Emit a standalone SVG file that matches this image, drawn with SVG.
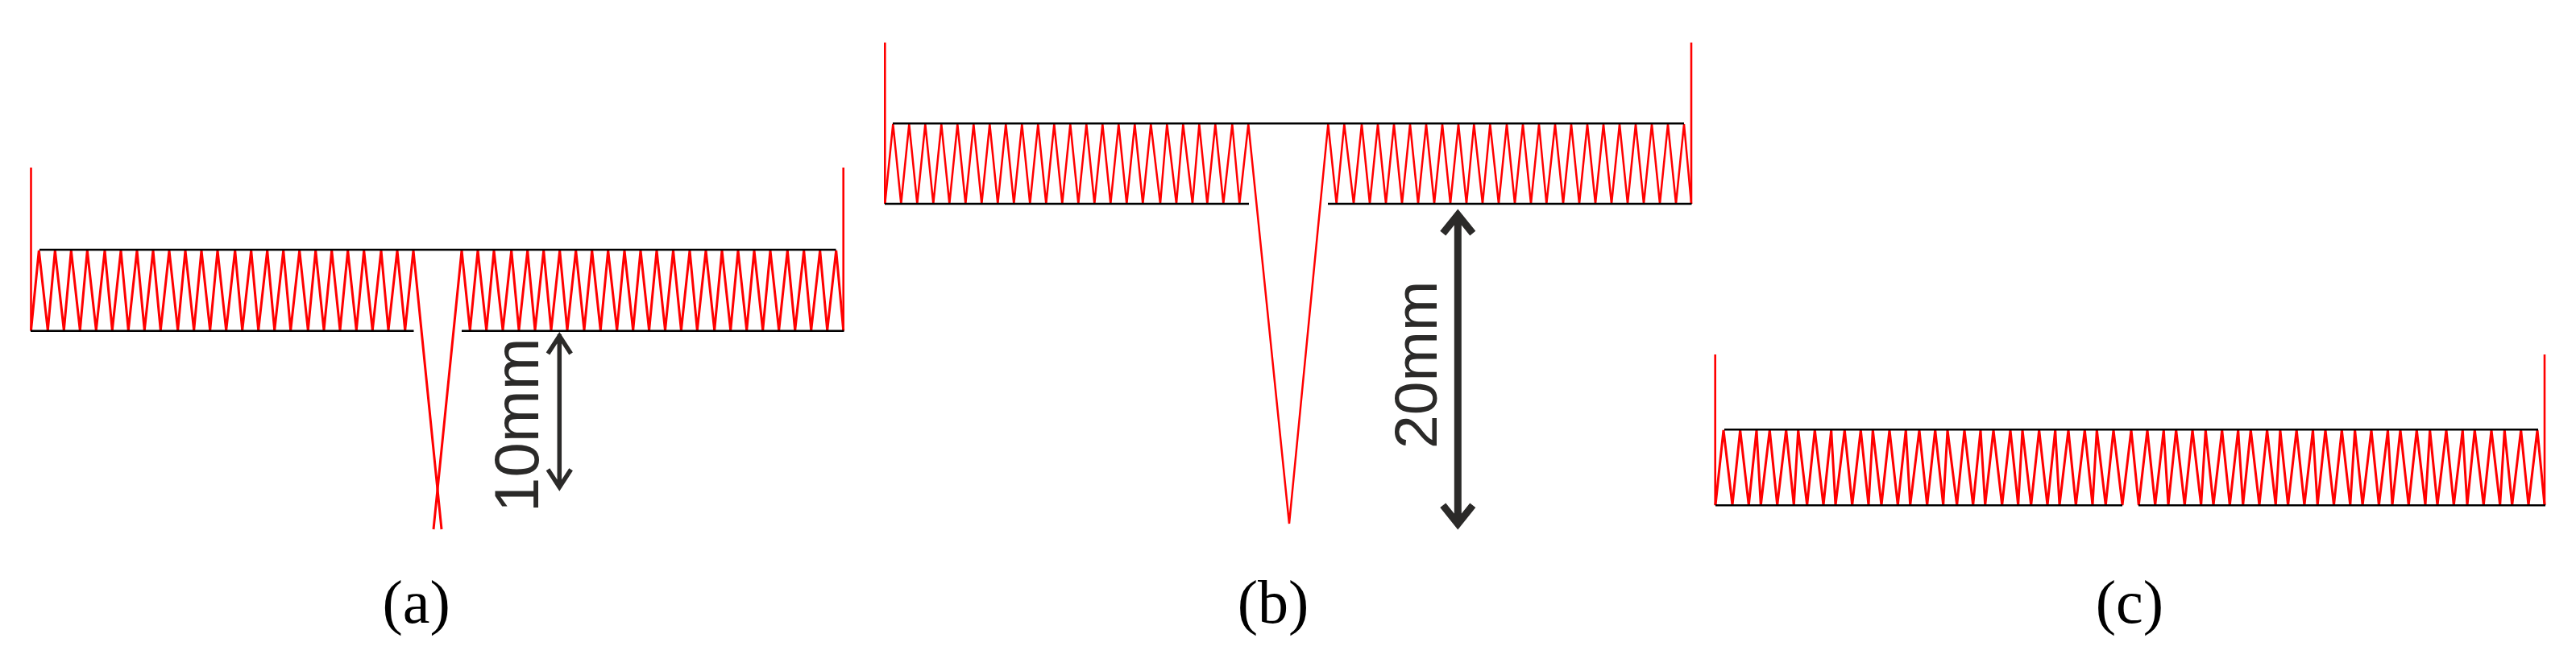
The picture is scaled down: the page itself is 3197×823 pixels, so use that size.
<svg xmlns="http://www.w3.org/2000/svg" width="3197" height="823" viewBox="0 0 3197 823">
<style>
.z{fill:none;stroke:#ff0000;stroke-width:3;stroke-linejoin:bevel}
.y{fill:none;stroke:#ff0000;stroke-width:2.5;stroke-linejoin:bevel}
.r{fill:none;stroke:#ff0000;stroke-width:2.6}
.k{fill:none;stroke:#000;stroke-width:2.6}
.d{fill:none;stroke:#2b2a29;stroke-linejoin:miter}
.t{font-family:"Liberation Sans",Arial,sans-serif;fill:#2b2a29}
.c{font-family:"Liberation Serif","Times New Roman",serif;font-size:76px;fill:#000;text-anchor:middle}
</style>
<rect width="3197" height="823" fill="#fff"/>
<g id="panel-a">
<polyline class="z" points="38.5,410 48.3,311 59.3,410 68.3,311 79.3,410 88.3,311 99.3,410 108.3,311 119.3,410 130,311 139.3,410 150,311 159.3,410 170,311 179.3,410 190,311 199.3,410 210,311 220.7,410 230,311 240.7,410 250,311 260.7,410 270,311 280.7,410 291.7,311 300.7,410 311.7,311 320.7,410 331.7,311 340.7,410 351.7,311 360.7,410 371.7,311 382.3,410 391.7,311 402,410 411.7,311 422,410 431.7,311 442.3,410 451.7,311 462.3,410 473,311 482,410 493,311 502.7,410 513,311 548,657"/>
<polyline class="z" points="538,657 573,311 583.3,410 593,311 603.7,410 613,311 624,410 634.7,311 644,410 654.7,311 664,410 674.7,311 684,410 694.7,311 704,410 714.7,311 725,410 734.7,311 745.3,410 754.7,311 765.7,410 775,311 785.7,410 795,311 805.6,410 815,311 825.5,410 835.5,311 845.4,410 856,311 865.3,410 876,311 886.7,410 896,311 906.7,410 916,311 926.7,410 936,311 946.7,410 956,311 966.7,410 977.3,311 986.7,410 997.7,311 1006.7,410 1017.7,311 1026.7,410 1037.7,311 1046.7,410"/>
<path class="r" d="M38.5 208V410.7M1046.7 208V410.7"/>
<path class="k" d="M49 310H1037.5M38 410.7H513.5M573 410.7H1047.5"/>
<g id="dim-10mm">
<path class="d" stroke-width="5.5" d="M694.3 415V606M680 439L694.3 417L708.6 439M680 582.7L694.3 604.7L708.6 582.7"/>
<text class="t" font-size="78" transform="translate(668 636) rotate(-90)">10mm</text>
</g>
<text class="c" x="516.7" y="772.7">(a)</text>
</g>
<g id="panel-b">
<polyline class="y" points="1098.3,253 1108.3,154 1118.3,253 1128.3,154 1138.3,253 1148.3,154 1158.3,253 1168.3,154 1178.3,253 1188.3,154 1198.3,253 1208.3,154 1218.3,253 1228.3,154 1238.3,253 1248.3,154 1258.3,253 1268.3,154 1278.3,253 1288.3,154 1298.3,253 1308.3,154 1318.3,253 1328.3,154 1338.3,253 1348.3,154 1358.3,253 1368.3,154 1378.3,253 1388.3,154 1398.3,253 1408.3,154 1418.3,253 1428.3,154 1440,253 1448.3,154 1460,253 1468.3,154 1480,253 1488.3,154 1498.3,253 1508.3,154 1518.3,253 1529.3,154 1538.3,253 1549.3,154 1600,650 1648.3,154 1658.7,253 1668.3,154 1680,253 1690,154 1700,253 1710,154 1720,253 1730,154 1740,253 1750,154 1760,253 1770,154 1780,253 1790,154 1800,253 1810,154 1820,253 1829.3,154 1840,253 1849.3,154 1860,253 1870,154 1880,253 1890,154 1900,253 1910,154 1919.3,253 1930,154 1940,253 1950,154 1960,253 1970,154 1980,253 1990,154 2000,253 2010,154 2020,253 2030,154 2040,253 2050,154 2060,253 2070,154 2080,253 2090,154 2099,253"/>
<path class="r" d="M1098.3 52.7V253M2099 52.7V253"/>
<path class="k" d="M1108 153.3H2090M1098 253H1550M1648 253H2099.5"/>
<g id="dim-20mm">
<path class="d" stroke-width="9" d="M1809.3 268V649M1790.8 289.6L1809.3 266.6L1827.8 289.6M1790.8 627.2L1809.3 650.2L1827.8 627.2"/>
<text class="t" font-size="75" transform="translate(1783 557) rotate(-90)">20mm</text>
</g>
<text class="c" x="1580" y="772.7">(b)</text>
</g>
<g id="panel-c">
<polyline class="z" points="2129,627 2139,534 2150,627 2159.7,534 2170.3,627 2180,534 2185.3,627 2196.3,534 2205.7,627 2216.7,534 2226.3,627 2231.7,534 2242.7,627 2252.3,534 2263,627 2272.7,534 2278,627 2289.3,534 2298.7,627 2309.3,534 2319,627 2324.3,534 2335,627 2345,534 2355.3,627 2365.3,534 2370.7,627 2382,534 2391.7,627 2401.7,534 2411.7,627 2417,534 2428.7,627 2438,534 2448.7,627 2458,534 2463.7,627 2474,534 2484.7,627 2495,534 2504.7,627 2510,534 2520.7,627 2530.7,534 2541,627 2550.7,534 2556,627 2567,534 2576.3,627 2587.3,534 2597,627 2602.3,534 2613.3,627 2623,534 2634,627 2645,534 2654.3,627 2665,534 2674.7,627 2685.3,534 2691,627 2700.7,534 2711.3,627 2721,534 2731.7,627 2737.3,534 2747,627 2757.7,534 2767.3,627 2777.7,534 2783.7,627 2793.3,534 2804,627 2813.6,534 2824.3,627 2829.9,534 2839.6,627 2850.2,534 2859.9,627 2870.5,534 2876.2,627 2886,534 2896.5,627 2906.3,534 2916.8,627 2922.6,534 2932.1,627 2943,534 2952.4,627 2963.5,534 2969,627 2979,534 2989.3,627 2999.3,534 3010,627 3015.7,534 3025,627 3036,534 3045.3,627 3056.3,534 3062,627 3071.3,534 3082.3,627 3092,534 3102.7,627 3108.3,534 3117.7,627 3128.7,534 3138,627 3149,534 3158,627"/>
<path class="r" d="M2128.7 440V627.3M3158 440V627.3"/>
<path class="k" d="M2140 533.3H3150M2129 627.3H2634M2654 627.3H3159"/>
<text class="c" x="2643" y="772.7">(c)</text>
</g>
</svg>
